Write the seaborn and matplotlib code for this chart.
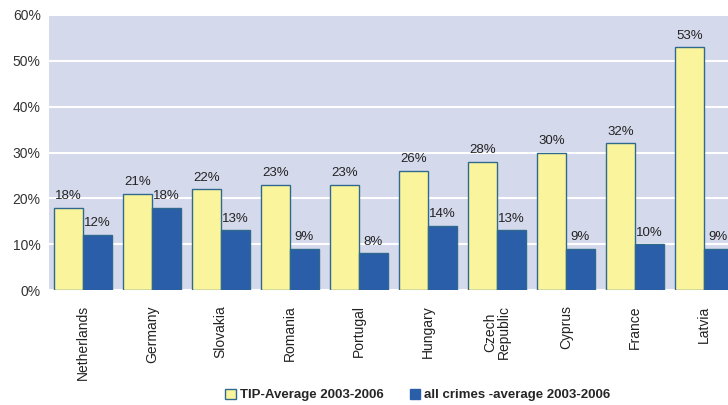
import matplotlib
matplotlib.use("Agg")
import matplotlib.pyplot as plt
import seaborn as sns
import pandas as pd
from matplotlib.patches import Patch

countries = ["Netherlands", "Germany", "Slovakia", "Romania", "Portugal",
             "Hungary", "Czech\nRepublic", "Cyprus", "France", "Latvia"]
tip_avg = [18, 21, 22, 23, 23, 26, 28, 30, 32, 53]
all_crimes = [12, 18, 13, 9, 8, 14, 13, 9, 10, 9]
series = ["TIP-Average 2003-2006", "all crimes -average 2003-2006"]
y_ticks = [0, 10, 20, 30, 40, 50, 60]

df = pd.DataFrame({
    "country": countries * 2,
    "value": tip_avg + all_crimes,
    "series": [series[0]] * len(countries) + [series[1]] * len(countries),
})

yellow = "#FAF59C"
blue = "#2A5EA9"
edge = "#2F6A8E"
bg = "#D5D9EC"

sns.set_style("white")
plt.rcParams["font.family"] = ["Liberation Sans", "DejaVu Sans"]

fig = plt.figure(figsize=(7.28, 4.05), dpi=100)
ax = fig.add_axes([49 / 728, 1 - 290 / 405, 1 - 49 / 728, 275 / 405])
ax.set_facecolor(bg)

sns.barplot(data=df, x="country", y="value", hue="series",
            palette=[yellow, blue], saturation=1, width=0.84, edgecolor=edge,
            linewidth=1.0, ax=ax, legend=False, zorder=3)

ax.set_ylim(0, 60)
ax.set_xlim(-0.49, 9.35)
ax.set_yticks(y_ticks)
ax.set_yticklabels([f"{t}%" for t in y_ticks], fontsize=10, color="#333333")
ax.yaxis.grid(True, color="white", linewidth=1.5, zorder=0)
ax.set_axisbelow(True)
ax.tick_params(axis="y", length=0, pad=6)
ax.tick_params(axis="x", length=0, pad=11)
ax.set_xticks(range(len(countries)))
ax.set_xticklabels(countries, rotation=90, fontsize=10, color="#222222",
                   va="top", ha="center", linespacing=1.0)
ax.set_xlabel("")
ax.set_ylabel("")
for s in ax.spines.values():
    s.set_visible(False)

for container, vals in zip(ax.containers, [tip_avg, all_crimes]):
    for bar, v in zip(container, vals):
        ax.annotate(f"{v}%", (bar.get_x() + bar.get_width() / 2, v),
                    xytext=(0, 4), textcoords="offset points",
                    ha="center", va="bottom", fontsize=9.5, color="#222222")

handles = [Patch(facecolor=yellow, edgecolor=edge, linewidth=1.0),
           Patch(facecolor=blue, edgecolor=blue)]
fig.legend(handles, series, loc="center", bbox_to_anchor=(418 / 728, 1 - 395 / 405),
           ncol=2, frameon=False, handlelength=0.8, handleheight=0.8,
           handletextpad=0.3, columnspacing=2.0,
           prop={"weight": "bold", "size": 9.5})

fig.savefig("out.png", dpi=100)
